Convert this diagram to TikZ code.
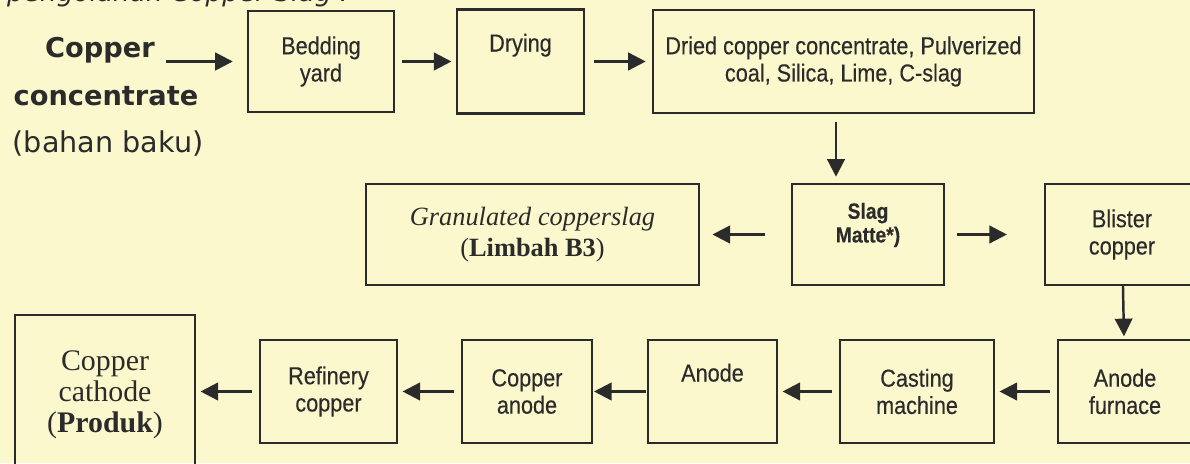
\documentclass[tikz,border=0pt]{standalone}
\usepackage{fontspec}
\usepackage{xcolor}
\usepackage{tikz}
\usetikzlibrary{arrows.meta,positioning}
\setmainfont{Liberation Serif}
\newfontfamily\boxfont[FakeStretch=0.88,FakeBold=0.3]{Liberation Sans}
\newfontfamily\headfont{DejaVu Sans}
\definecolor{FlowInk}{HTML}{2B2B2B}
\definecolor{PaperTone}{HTML}{FCF8CD}
\tikzset{
  diagram/.style={text=FlowInk},
  box/.style={draw=FlowInk,line width=1.3pt,inner sep=2pt,align=center,
    font=\boxfont\fontsize{14}{15.5}\selectfont},
  lead/.style={font=\headfont\bfseries\fontsize{15.5}{18}\selectfont},
  flow/.style={-{Triangle[length=10pt,width=10pt]},line width=1.4pt,draw=FlowInk,
    shorten <=4pt,shorten >=2.5pt},
}

\begin{document}
\begin{tikzpicture}[diagram]
  \useasboundingbox (0,0) rectangle (23.8,9.26);
  \fill[PaperTone] (0,0) rectangle (23.8,9.26);
  \clip (0,0) rectangle (23.8,9.26);

  \node[font=\headfont\itshape\fontsize{15}{18}\selectfont,anchor=base east] (heading)
    at (7.10,9.22) {pengolahan Copper Slag :};

  \node[lead] (copper) at (2.00,8.26) {Copper};
  \node[lead] (concentrate) at (2.12,7.34) {concentrate};
  \node[font=\headfont\fontsize{16.3}{18}\selectfont] (bahan) at (2.16,6.38) {(bahan baku)};

  \node[box,minimum width=2.92cm,minimum height=2.02cm] (bedding) at (6.42,8.03) {Bedding\\yard};
  \node[box,minimum width=2.54cm,minimum height=2.08cm] (drying) at (10.41,8.03) {Drying\\[6pt]\mbox{}};
  \node[box,minimum width=7.62cm,minimum height=2.06cm] (dried) at (16.87,8.03)
    {Dried copper concentrate, Pulverized\\coal, Silica, Lime, C-slag};

  \node[box,minimum width=6.66cm,minimum height=2.02cm,
    font=\rmfamily\fontsize{15}{17.5}\selectfont] (granulated) at (10.65,4.57)
    {\textit{Granulated copperslag}\\(\textbf{Limbah B3})};
  \node[box,minimum width=3.04cm,minimum height=2.02cm,
    font=\boxfont\bfseries\fontsize{12.5}{13.5}\selectfont] (slag) at (17.36,4.57)
    {Slag\\Matte*)\\\mbox{}};
  \node[box,minimum width=3.08cm,minimum height=2.02cm] (blister) at (22.44,4.57) {Blister\\copper};

  \node[box,minimum width=3.6cm,minimum height=3.2cm,
    font=\rmfamily\fontsize{17}{17.5}\selectfont] (cathode) at (2.10,1.36)
    {Copper\\cathode\\(\textbf{Produk})};
  \node[box,minimum width=2.74cm,minimum height=2.06cm] (refinery) at (6.57,1.43) {Refinery\\copper};
  \node[box,minimum width=2.60cm,minimum height=2.06cm] (canode) at (10.54,1.43) {Copper\\anode};
  \node[box,minimum width=2.58cm,minimum height=2.06cm] (anode) at (14.25,1.43) {Anode\\[6pt]\mbox{}};
  \node[box,minimum width=3.08cm,minimum height=2.06cm] (casting) at (18.34,1.43) {Casting\\machine};
  \node[box,minimum width=2.68cm,minimum height=2.06cm] (furnace) at (22.50,1.43) {Anode\\furnace};

  \draw[flow,shorten <=3pt,shorten >=8pt] (copper.east |- bedding.west) -- (bedding.west);
  \draw[flow] (bedding) -- (drying);
  \draw[flow,shorten <=5pt,shorten >=3.5pt] (drying) -- (dried);
  \draw[flow,shorten <=4.5pt,shorten >=3.5pt] ([xshift=-0.15cm]dried.south)
    -- ([xshift=-0.15cm]dried.south |- slag.north);

  \draw[flow,shorten <=15pt,shorten >=7pt] (slag) -- (granulated);
  \draw[flow,shorten <=7pt,shorten >=21pt] (slag) -- (blister);
  \draw[flow,shorten <=0pt,shorten >=1.5pt] (blister) -- (furnace);

  \draw[flow] (furnace) -- (casting);
  \draw[flow] (casting) -- (anode);
  \draw[flow,shorten <=0.5pt,shorten >=0.5pt] (anode) -- (canode);
  \draw[flow] (canode) -- (refinery);
  \draw[flow] (refinery.west) -- (refinery.west -| cathode.east);
\end{tikzpicture}
\end{document}
